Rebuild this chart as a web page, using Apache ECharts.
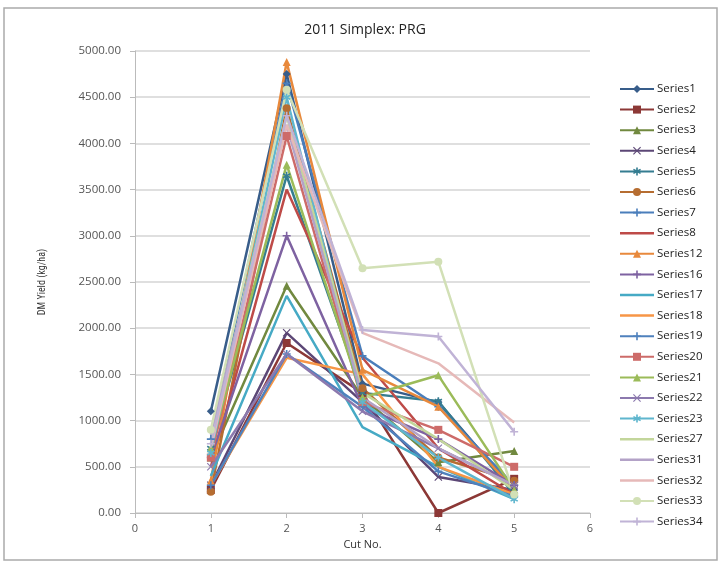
<!DOCTYPE html>
<html><head><meta charset="utf-8">
<script src="https://cdn.jsdelivr.net/npm/echarts@6/dist/echarts.min.js"></script>
<style>html,body{margin:0;padding:0;background:#fff}#c{width:720px;height:574px}</style>
</head><body><div id="c"></div>
<script>
var cuts = [1, 2, 3, 4, 5];
var seriesNames = ['Series1','Series2','Series3','Series4','Series5','Series6','Series7','Series8','Series12','Series16','Series17','Series18','Series19','Series20','Series21','Series22','Series23','Series27','Series31','Series32','Series33','Series34'];
var s1  = [1100, 4750, 1400, 1200, 250];
var s2  = [250, 1840, 1300, 0, 370];
var s3  = [600, 2460, 1250, 550, 670];
var s4  = [300, 1950, 1200, 390, 250];
var s5  = [700, 3650, 1300, 1210, 200];
var s6  = [230, 4380, 1350, 600, 350];
var s7  = [800, 4650, 1700, 1150, 300];
var s8  = [500, 3500, 1680, 700, 200];
var s12 = [350, 4880, 1550, 1150, 250];
var s16 = [600, 3000, 1150, 800, 300];
var s17 = [400, 2350, 930, 500, 150];
var s18 = [300, 1680, 1500, 500, 200];
var s19 = [300, 1720, 1150, 450, 180];
var s20 = [600, 4080, 1200, 900, 500];
var s21 = [700, 3770, 1250, 1490, 250];
var s22 = [500, 1720, 1100, 700, 300];
var s23 = [650, 4500, 1200, 600, 150];
var s27 = [800, 4300, 1300, 800, 250];
var s31 = [850, 4200, 1250, 700, 300];
var s32 = [700, 4200, 1950, 1620, 980];
var s33 = [900, 4580, 2650, 2720, 200];
var s34 = [750, 4300, 1980, 1910, 880];
var values = [s1,s2,s3,s4,s5,s6,s7,s8,s12,s16,s17,s18,s19,s20,s21,s22,s23,s27,s31,s32,s33,s34];
var yTicks = [0, 500, 1000, 1500, 2000, 2500, 3000, 3500, 4000, 4500, 5000];

var colors = ['#385D8A','#8C3836','#71893F','#5C4776','#357D91','#B66D31','#4A7EBB','#BE4B48','#E8893C','#7E62A1','#46AAC5','#F79646','#4F81BD','#CD6B69','#9BBB59','#8C79AE','#5FB6CE','#C3D69B','#B3A2C7','#E6B9B8','#D2E0B6','#C0B3D6'];
var PLUS = 'path://M4,0H6V4H10V6H6V10H4V6H0V4H4Z';
var XMARK = 'path://M1,0L5,4L9,0L10,1L6,5L10,9L9,10L5,6L1,10L0,9L4,5L0,1Z';
var STAR = 'path://M4,0H6V3.3L8.9,1.6L9.9,3.4L7,5L9.9,6.6L8.9,8.4L6,6.7V10H4V6.7L1.1,8.4L0.1,6.6L3,5L0.1,3.4L1.1,1.6L4,3.3Z';
var LINEICON = 'path://M0,0H34V2.5H0Z';
var symbols = ['diamond','rect','triangle',XMARK,STAR,'circle',PLUS,'none','triangle',PLUS,'none','none',PLUS,'rect','triangle',XMARK,STAR,'none','none','none','circle',PLUS];

var series = seriesNames.map(function(n, i){
  return {
    name: n, type: 'line',
    data: cuts.map(function(c, j){ return [c, values[i][j]]; }),
    symbol: symbols[i], symbolSize: symbols[i] === 'none' ? 0 : 8,
    showSymbol: symbols[i] !== 'none',
    lineStyle: {width: 2.5, color: colors[i]},
    itemStyle: {color: colors[i]},
    emphasis: {disabled: true},
    z: 2
  };
});

var legendData = seriesNames.map(function(n, i){
  return symbols[i] === 'none' ? {name: n, icon: LINEICON, itemStyle: {color: colors[i]}} : {name: n};
});

var chart = echarts.init(document.getElementById('c'), null, {renderer: 'canvas'});
chart.setOption({
  animation: false,
  backgroundColor: '#fff',
  title: {text: '2011 Simplex: PRG', left: 360, top: 18, textAlign: 'center',
    textStyle: {fontFamily: 'Open Sans, sans-serif', fontSize: 14, fontWeight: 'normal', color: '#222'}},
  graphic: [{type: 'rect', shape: {x: 4, y: 8, width: 713, height: 552},
    style: {fill: 'none', stroke: '#aaa', lineWidth: 1.5}, silent: true}],
  legend: {
    orient: 'vertical', left: 614, top: 78, height: 490, itemGap: 8.6, itemWidth: 34, itemHeight: 10,
    textStyle: {fontFamily: 'Open Sans, sans-serif', fontSize: 11.5, color: '#222', padding: [0,0,0,-2]},
    data: legendData
  },
  grid: {left: 135, right: 130, top: 51, bottom: 61},
  xAxis: {
    type: 'value', min: 0, max: 6, interval: 1,
    name: 'Cut No.', nameLocation: 'middle', nameGap: 26,
    nameTextStyle: {fontFamily: 'Open Sans, sans-serif', fontSize: 11, color: '#333'},
    axisLine: {lineStyle: {color: '#bbb'}},
    axisTick: {show: true, lineStyle: {color: '#bbb'}},
    axisLabel: {fontFamily: 'Open Sans, sans-serif', fontSize: 11, color: '#555', margin: 10},
    splitLine: {show: false}
  },
  yAxis: {
    type: 'value', min: 0, max: 5000, interval: 500,
    name: 'DM Yield (kg/ha)', nameLocation: 'middle', nameGap: 88, nameRotate: 90,
    nameTextStyle: {fontFamily: 'Liberation Sans Narrow, Roboto Condensed, sans-serif', fontSize: 10, color: '#333'},
    axisLine: {show: true, lineStyle: {color: '#bbb'}},
    axisTick: {show: true, lineStyle: {color: '#bbb'}},
    axisLabel: {fontFamily: 'Open Sans, sans-serif', fontSize: 11.5, color: '#555', margin: 14,
      formatter: function(v){ return v.toFixed(2); }},
    splitLine: {lineStyle: {color: '#d4d4d4', width: 1.5}}
  },
  series: series
});
</script></body></html>
